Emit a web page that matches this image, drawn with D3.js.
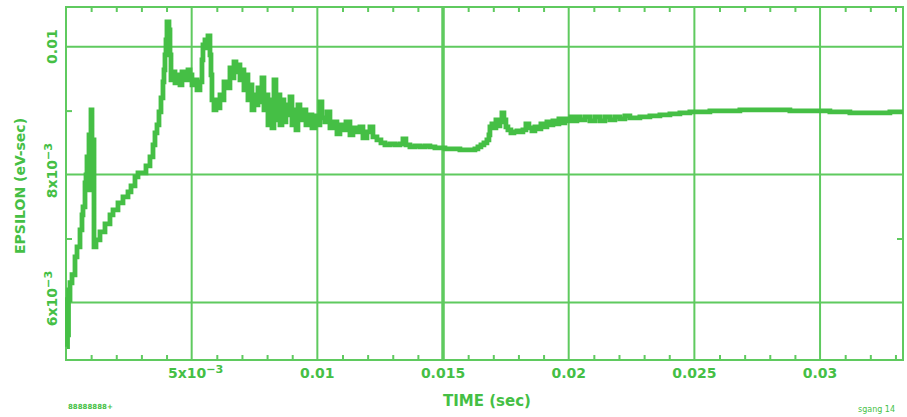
<!DOCTYPE html>
<html><head><meta charset="utf-8">
<script src="https://cdn.jsdelivr.net/npm/d3@7"></script>
<style>body{margin:0;background:#fff;}svg{display:block;}</style>
</head><body>
<script>
// time in milliseconds, epsilon in units of 1e-3 eV-sec
const timeMs = [0.040,0.060,0.080,0.099,0.119,0.159,0.239,0.358,0.438,0.557,0.636,0.676,0.756,0.796,0.835,0.875,0.915,0.955,0.994,1.034,1.074,1.114,1.193,1.352,1.551,1.750,1.870,2.068,2.267,2.466,2.586,2.745,2.864,3.063,3.182,3.341,3.461,3.540,3.620,3.699,3.779,3.858,3.898,3.938,3.978,4.017,4.097,4.137,4.177,4.256,4.336,4.415,4.535,4.614,4.733,4.853,4.932,5.012,5.131,5.211,5.330,5.410,5.449,5.529,5.609,5.648,5.728,5.768,5.807,5.887,5.967,6.046,6.126,6.205,6.285,6.404,6.523,6.603,6.683,6.762,6.842,6.921,7.001,7.080,7.160,7.239,7.319,7.399,7.478,7.558,7.637,7.717,7.796,7.876,7.955,8.035,8.115,8.194,8.274,8.353,8.433,8.512,8.592,8.671,8.751,8.830,8.910,8.990,9.069,9.149,9.228,9.308,9.427,9.546,9.666,9.785,9.904,10.024,10.103,10.183,10.302,10.382,10.501,10.620,10.780,10.899,11.018,11.138,11.297,11.416,11.575,11.694,11.814,11.973,12.092,12.212,12.371,12.530,12.689,12.888,13.087,13.286,13.405,13.524,13.683,13.882,14.081,14.280,14.479,14.678,14.877,15.076,15.275,15.474,15.672,15.871,16.070,16.269,16.388,16.508,16.627,16.746,16.826,16.866,16.945,17.025,17.104,17.184,17.264,17.343,17.423,17.502,17.582,17.701,17.820,17.939,18.059,18.178,18.297,18.417,18.536,18.655,18.775,18.894,19.013,19.133,19.252,19.371,19.491,19.610,19.729,19.849,19.968,20.087,20.207,20.326,20.445,20.644,20.843,21.042,21.241,21.440,21.639,21.838,22.036,22.235,22.434,22.832,23.230,23.628,24.026,24.423,24.821,25.219,25.617,26.015,26.413,26.810,27.208,27.606,28.004,28.402,28.800,29.197,29.595,29.993,30.391,30.789,31.187,31.584,31.982,32.380,32.778,33.176,33.295];
const epsilonE3 = [5.308,6.042,5.495,6.198,6.042,6.308,6.433,6.714,6.870,7.136,7.370,7.495,7.870,7.995,8.277,7.761,8.620,7.917,9.011,7.761,8.542,6.870,6.980,7.105,7.230,7.370,7.448,7.558,7.652,7.730,7.823,7.964,8.027,8.027,8.136,8.277,8.464,8.651,8.776,8.980,9.198,9.448,9.636,9.870,10.105,10.386,10.261,9.870,9.480,9.605,9.433,9.558,9.402,9.605,9.480,9.636,9.558,9.402,9.480,9.323,9.448,9.792,10.027,10.105,9.980,10.167,9.870,9.558,9.167,9.011,9.167,9.042,9.245,9.167,9.448,9.355,9.667,9.511,9.761,9.605,9.714,9.480,9.636,9.323,9.558,9.167,9.402,9.011,9.245,9.089,9.355,9.136,9.511,9.011,9.245,8.776,9.167,8.730,9.480,8.855,9.245,8.776,9.167,8.823,9.089,8.933,9.214,8.776,9.011,8.698,9.089,8.855,9.011,8.776,8.933,8.730,8.917,8.776,9.136,8.886,8.823,8.980,8.730,8.823,8.636,8.776,8.698,8.823,8.620,8.730,8.667,8.745,8.573,8.667,8.745,8.589,8.542,8.495,8.464,8.480,8.464,8.480,8.558,8.464,8.433,8.448,8.433,8.448,8.433,8.417,8.417,8.402,8.402,8.402,8.386,8.386,8.386,8.402,8.433,8.464,8.495,8.542,8.620,8.745,8.792,8.730,8.855,8.761,8.823,8.964,8.855,8.745,8.698,8.651,8.667,8.683,8.667,8.698,8.792,8.730,8.683,8.745,8.714,8.792,8.745,8.823,8.776,8.839,8.792,8.870,8.808,8.870,8.839,8.901,8.839,8.901,8.855,8.901,8.839,8.901,8.839,8.901,8.855,8.901,8.870,8.917,8.886,8.901,8.917,8.933,8.948,8.964,8.980,8.980,8.995,8.995,8.995,9.011,9.011,9.011,9.011,9.011,8.995,8.995,8.995,8.995,8.980,8.980,8.964,8.964,8.964,8.964,8.980,8.980,8.980];

const xMajorTicks = [0.005, 0.01, 0.015, 0.02, 0.025, 0.03];
const xTickLabels = [["5x10","−3"], ["0.01"], ["0.015"], ["0.02"], ["0.025"], ["0.03"]];
const xMinorTicks = [0.001,0.002,0.003,0.004,0.006,0.007,0.008,0.009,0.011,0.012,0.013,0.014,0.016,0.017,0.018,0.019,0.021,0.022,0.023,0.024,0.026,0.027,0.028,0.029,0.031,0.032,0.033];
const yMajorTicks = [0.006, 0.008, 0.01];
const yTickLabels = [["6x10","−3"], ["8x10","−3"], ["0.01"]];
const yMinorTicks = [0.007, 0.009];
const xTitle = "TIME (sec)";
const yTitle = "EPSILON (eV-sec)";

const W = 907, H = 417;
const GREEN = "#45bf45", GRID = "#5fca5f";
const L = 66, R = 903, T = 7, B = 360;

const x = d3.scaleLinear().domain([0, 0.0333]).range([L, R]);
const y = d3.scaleLinear().domain([0.0051, 0.01062]).range([B, T]);

const svg = d3.select("body").append("svg").attr("width", W).attr("height", H);
svg.append("rect").attr("width", W).attr("height", H).attr("fill", "#fff");

// grid
svg.append("g").selectAll("line").data(xMajorTicks).join("line")
  .attr("x1", d => x(d)).attr("x2", d => x(d)).attr("y1", T).attr("y2", B)
  .attr("stroke", GRID).attr("stroke-width", d => d === 0.015 ? 3.5 : 2);
svg.append("g").selectAll("line").data(yMajorTicks).join("line")
  .attr("y1", d => y(d)).attr("y2", d => y(d)).attr("x1", L).attr("x2", R)
  .attr("stroke", GRID).attr("stroke-width", 2);

// axes (minor ticks inward) using d3 axes
const tickStyle = g => { g.select(".domain").remove(); g.selectAll("text").remove(); g.selectAll("line").attr("stroke", GRID).attr("stroke-width", 2); };
svg.append("g").attr("transform", `translate(0,${B})`).call(d3.axisTop(x).tickValues(xMinorTicks).tickSize(5)).call(tickStyle);
svg.append("g").attr("transform", `translate(0,${T})`).call(d3.axisBottom(x).tickValues(xMinorTicks).tickSize(5)).call(tickStyle);
svg.append("g").attr("transform", `translate(${L},0)`).call(d3.axisRight(y).tickValues(yMinorTicks).tickSize(6)).call(tickStyle);
svg.append("g").attr("transform", `translate(${R},0)`).call(d3.axisLeft(y).tickValues(yMinorTicks).tickSize(6)).call(tickStyle);

// frame
svg.append("rect").attr("x", L).attr("y", T).attr("width", R - L).attr("height", B - T)
  .attr("fill", "none").attr("stroke", GRID).attr("stroke-width", 2);

// data line
const data = timeMs.map((t, i) => [t * 1e-3, epsilonE3[i] * 1e-3]);
svg.append("path").datum(data)
  .attr("d", d3.line().x(d => x(d[0])).y(d => y(d[1])).curve(d3.curveStepAfter))
  .attr("fill", "none").attr("stroke", GREEN).attr("stroke-width", 4.8).attr("stroke-linejoin", "miter");

const font = "'DejaVu Sans', sans-serif";
function addLabel(sel, parts) {
  sel.append("tspan").text(parts[0]);
  if (parts[1]) sel.append("tspan").attr("dy", "-0.45em").attr("font-size", "0.8em").text(parts[1]);
}
// x tick labels
xMajorTicks.forEach((v, i) => {
  const t = svg.append("text").attr("x", x(v) + (xTickLabels[i][1] ? 4 : 0)).attr("y", 378)
    .attr("text-anchor", "middle").attr("font-family", font).attr("font-weight", "bold")
    .attr("font-size", 14).attr("fill", GREEN);
  addLabel(t, xTickLabels[i]);
});
// y tick labels (rotated)
yMajorTicks.forEach((v, i) => {
  const t = svg.append("text").attr("transform", `translate(57,${y(v) + (yTickLabels[i][1] ? -4 : 0)}) rotate(-90)`)
    .attr("text-anchor", "middle").attr("font-family", font).attr("font-weight", "bold")
    .attr("font-size", 14).attr("fill", GREEN);
  addLabel(t, yTickLabels[i]);
});
// titles
svg.append("text").attr("x", 487).attr("y", 406).attr("text-anchor", "middle")
  .attr("font-family", font).attr("font-weight", "bold").attr("font-size", 15).attr("fill", GREEN).text(xTitle);
svg.append("text").attr("transform", "translate(25,186) rotate(-90)").attr("text-anchor", "middle")
  .attr("font-family", font).attr("font-weight", "bold").attr("font-size", 14).attr("fill", GREEN).text(yTitle);
// small corner texts
svg.append("text").attr("x", 68).attr("y", 409).attr("font-family", font).attr("font-weight", "bold")
  .attr("font-size", 7).attr("fill", GREEN).text("88888888+");
svg.append("text").attr("x", 858).attr("y", 412).attr("font-family", font)
  .attr("font-size", 8).attr("fill", GREEN).text("sgang 14");
</script>
</body></html>
